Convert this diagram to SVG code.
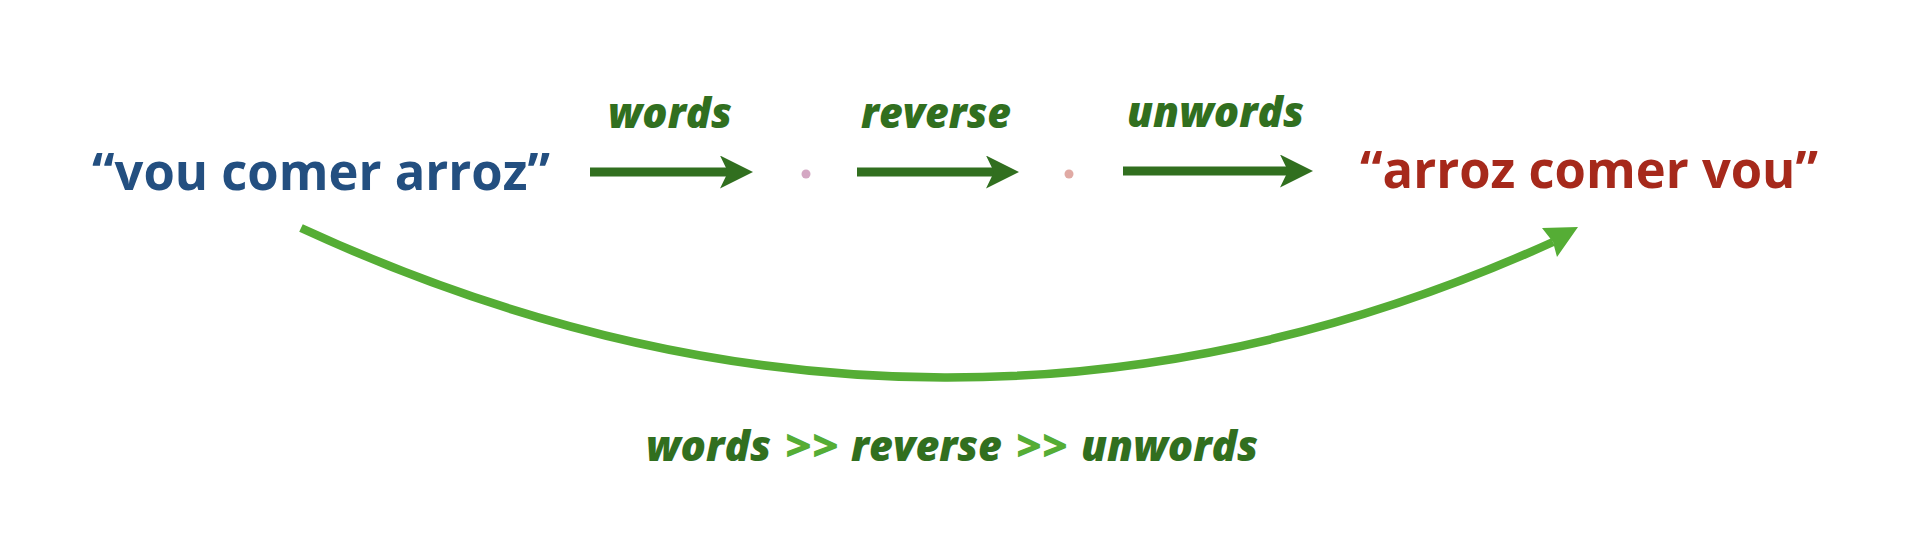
<svg xmlns="http://www.w3.org/2000/svg" width="1920" height="544" viewBox="0 0 1920 544">
  <style>
    .main { font-family: "Open Sans", "Liberation Sans", sans-serif; font-weight: 700; font-size: 52px; }
    .lbl { font-family: "Open Sans", "Liberation Sans", sans-serif; font-weight: 800; font-style: italic; font-size: 43px; fill: #316f1f; }
    .op { font-family: "Open Sans", "Liberation Sans", sans-serif; font-weight: 800; font-size: 43px; fill: #55ad35; }
    .shaft { stroke: #316f1f; stroke-width: 9; fill: none; marker-end: url(#head); }
  </style>
  <defs>
    <marker id="head" markerUnits="userSpaceOnUse" markerWidth="34" markerHeight="34" refX="8" refY="16.5" orient="auto" viewBox="0 0 34 34">
      <path d="M0,0 L33,16.5 L0,33 L8,16.5 Z" fill="#316f1f"/>
    </marker>
  </defs>
  <rect width="1920" height="544" fill="#ffffff"/>

  <g id="input">
    <text class="main" x="92" y="190" fill="#234f80" textLength="458" lengthAdjust="spacingAndGlyphs">“vou comer arroz”</text>
  </g>
  <g id="output">
    <text class="main" x="1360" y="188" fill="#a6291b" textLength="458" lengthAdjust="spacingAndGlyphs">“arroz comer vou”</text>
  </g>
  <g id="dot1">
    <circle cx="806" cy="174" r="4.5" fill="#d4a7c3"/>
  </g>
  <g id="dot2">
    <circle cx="1069" cy="174" r="4.5" fill="#e0aaa4"/>
  </g>

  <g id="connectors">
    <line class="shaft" x1="590" y1="172" x2="728" y2="172"/>
    <line class="shaft" x1="857" y1="172" x2="994" y2="172"/>
    <line class="shaft" x1="1123" y1="171" x2="1288" y2="171"/>
    <path d="M301,228 C740,430 1160,420 1553,242" fill="none" stroke="#55ad35" stroke-width="8.5"/>
    <polygon points="1578,227 1542,228 1553,242 1557,257" fill="#55ad35"/>
  </g>

  <g id="labels">
    <text class="lbl" x="608" y="128" textLength="124" lengthAdjust="spacingAndGlyphs">words</text>
    <text class="lbl" x="861" y="128" textLength="150" lengthAdjust="spacingAndGlyphs">reverse</text>
    <text class="lbl" x="1127" y="127" textLength="177" lengthAdjust="spacingAndGlyphs">unwords</text>
  </g>

  <g id="composition">
    <text class="lbl" x="646" y="461" textLength="125" lengthAdjust="spacingAndGlyphs">words</text>
    <text class="op" x="785" y="461" textLength="54" lengthAdjust="spacingAndGlyphs">&gt;&gt;</text>
    <text class="lbl" x="851" y="461" textLength="151" lengthAdjust="spacingAndGlyphs">reverse</text>
    <text class="op" x="1016" y="461" textLength="52" lengthAdjust="spacingAndGlyphs">&gt;&gt;</text>
    <text class="lbl" x="1081" y="461" textLength="177" lengthAdjust="spacingAndGlyphs">unwords</text>
  </g>
</svg>
